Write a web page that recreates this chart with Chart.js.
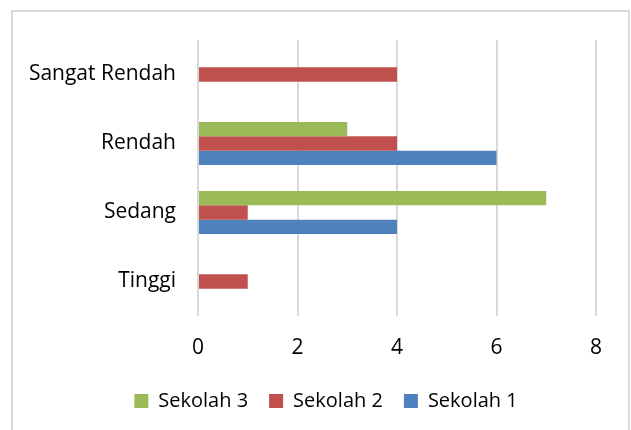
<!DOCTYPE html>
<html>
<head>
<meta charset="utf-8">
<script src="https://cdn.jsdelivr.net/npm/chart.js@4"></script>
<style>
  html, body { margin: 0; padding: 0; background: #fff; }
  #wrap { position: relative; width: 631px; height: 430px; overflow: hidden; }
  #frame { position: absolute; left: 11px; top: 10px; width: 619px; height: 440px; border: 2px solid #d9d9d9; box-sizing: border-box; }
  canvas { position: absolute; left: 0; top: 0; }
</style>
</head>
<body>
<div id="wrap">
  <div id="frame"></div>
  <canvas id="chart" width="631" height="430"></canvas>
</div>
<script>
// categories top to bottom
const categories = ['Sangat Rendah', 'Rendah', 'Sedang', 'Tinggi'];
const sekolah1 = [0, 6, 4, 0];
const sekolah2 = [4, 4, 1, 1];
const sekolah3 = [0, 3, 7, 0];
const xTicks = [0, 2, 4, 6, 8];

const FONT = "'Open Sans', 'Noto Sans', sans-serif";

// the original legend sits a bit right of the centre
const legendShift = {
    id: 'legendShift',
    afterLayout(chart) {
        chart.legend.left += 23;
        chart.legend.right += 23;
    }
};

const ctx = document.getElementById('chart').getContext('2d');
const chart = new Chart(ctx, {
    type: 'bar',
    data: {
        labels: categories,
        datasets: [
            { label: 'Sekolah 3', data: sekolah3, backgroundColor: '#9BBB59' },
            { label: 'Sekolah 2', data: sekolah2, backgroundColor: '#C0504D' },
            { label: 'Sekolah 1', data: sekolah1, backgroundColor: '#4F81BD' }
        ]
    },
    plugins: [legendShift],
    options: {
        indexAxis: 'y',
        responsive: false,
        animation: false,
        categoryPercentage: 0.625,
        barPercentage: 1,
        layout: { padding: { left: 10, right: 35, top: 40, bottom: 9 } },
        scales: {
            x: {
                min: 0,
                max: 8,
                afterBuildTicks: (scale) => { scale.ticks = xTicks.map(v => ({ value: v })); },
                afterFit: (scale) => { scale.height = 54; },
                grid: { color: '#d9d9d9', lineWidth: 2, drawTicks: false },
                border: { display: false },
                ticks: { color: '#000', font: { family: FONT, size: 21 }, padding: 19 }
            },
            y: {
                afterFit: (scale) => { scale.width = 188; },
                grid: { display: false },
                border: { display: false },
                ticks: { color: '#000', font: { family: FONT, size: 21 }, padding: 14 }
            }
        },
        plugins: {
            legend: {
                position: 'bottom',
                labels: {
                    color: '#000',
                    font: { family: FONT, size: 20 },
                    boxWidth: 14,
                    boxHeight: 14,
                    padding: 21
                }
            },
            tooltip: { enabled: false }
        }
    }
});
</script>
</body>
</html>
